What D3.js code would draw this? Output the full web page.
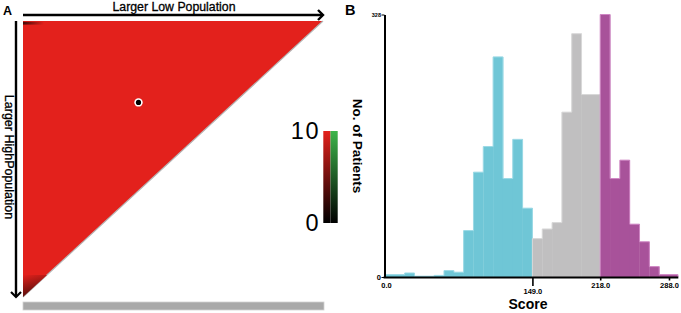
<!DOCTYPE html>
<html>
  <head>
    <script src="https://cdn.jsdelivr.net/npm/d3@7"></script>
    <style>
      body { margin: 0; background: #fff; }
      svg { font-family: "Liberation Sans", Arial, sans-serif; }
    </style>
  </head>
  <body>
    <script>

      // panel A: x-tile plot (fractions of the cohort)
      var tileCorners = [[0, 0], [1, 0], [0, 1]];
      var tileValue = 10;
      var cutPoint = [0.385, 0.295];
      var legendTicks = [0, 10];

      // panel B: histogram of scores
      var cutLow = 149, cutHigh = 218;
      var binEdges = [-1, 19, 29, 49, 59, 69, 79, 89, 99, 109, 119, 129, 139, 149,
                      159, 169, 179, 189, 199, 218,
                      228, 238, 248, 258, 268, 278, 297];
      var counts = [3, 5, 1, 2, 8, 6, 58, 131, 163, 275, 123, 172, 86,
                    48, 60, 68, 206, 304, 228,
                    328, 123, 146, 66, 44, 13, 3];
      var scoreTicks = [0, 149, 218, 288];
      var countTicks = [0, 328];

      var svg = d3.select("body")
        .append("svg")
        .attr("width", 681)
        .attr("height", 313);

      var defs = svg.append("defs");

      // ---------- panel A ----------
      var xA = d3.scaleLinear().domain([0, 1]).range([23, 323]);
      var yA = d3.scaleLinear().domain([0, 1]).range([21, 297]);
      var red = d3.scaleLinear().domain([0, 10]).range(["#000000", "#e3211c"]);
      var green = d3.scaleLinear().domain([0, 10]).range(["#000000", "#3cb54a"]);

      // panel letter
      svg.append("text")
        .attr("x", 3).attr("y", 15)
        .style("font-size", "12.5px").style("font-weight", "bold")
        .text("A");

      // main triangle
      svg.append("path")
        .attr("d", d3.line().x(function(d) { return xA(d[0]); }).y(function(d) { return yA(d[1]); })(tileCorners) + "Z")
        .attr("fill", red(tileValue));

      // diagonal edge
      svg.append("line")
        .attr("x1", xA(1)).attr("y1", yA(0))
        .attr("x2", xA(0)).attr("y2", yA(1))
        .attr("stroke", "#b5b5b5")
        .attr("stroke-width", 1.2);

      // dark corners
      var gBottom = defs.append("linearGradient")
        .attr("id", "gBottom").attr("x1", 0).attr("y1", 0).attr("x2", 0.3).attr("y2", 1);
      gBottom.append("stop").attr("offset", "0%").attr("stop-color", red(10));
      gBottom.append("stop").attr("offset", "100%").attr("stop-color", red(3.5));
      svg.append("path")
        .attr("d", "M" + xA(0) + "," + yA(0.92) + "L" + xA(0.08) + "," + yA(0.92) + "L" + xA(0) + "," + yA(1) + "Z")
        .attr("fill", "url(#gBottom)");

      var gTop = defs.append("linearGradient")
        .attr("id", "gTop").attr("x1", 0).attr("y1", 0).attr("x2", 1).attr("y2", 0);
      gTop.append("stop").attr("offset", "0%").attr("stop-color", red(3));
      gTop.append("stop").attr("offset", "100%").attr("stop-color", red(10));
      svg.append("rect")
        .attr("x", xA(0)).attr("y", yA(0.003))
        .attr("width", xA(0.07) - xA(0)).attr("height", yA(0.01) - yA(0))
        .attr("fill", "url(#gTop)");

      // optimal cut point
      svg.append("circle")
        .attr("cx", xA(cutPoint[0])).attr("cy", yA(cutPoint[1]))
        .attr("r", 4.2).attr("fill", "#fff");
      svg.append("circle")
        .attr("cx", xA(cutPoint[0])).attr("cy", yA(cutPoint[1]))
        .attr("r", 2.6).attr("fill", "#000");

      // arrows
      svg.append("line")
        .attr("x1", xA(0)).attr("y1", 15).attr("x2", xA(1)).attr("y2", 15)
        .attr("stroke", "#000").attr("stroke-width", 2.6);
      svg.append("path")
        .attr("d", "M" + (xA(1) - 5) + ",10L" + xA(1) + ",15L" + (xA(1) - 5) + ",20")
        .attr("fill", "none").attr("stroke", "#000").attr("stroke-width", 2.4);
      svg.append("line")
        .attr("x1", 16).attr("y1", yA(0)).attr("x2", 16).attr("y2", yA(1))
        .attr("stroke", "#000").attr("stroke-width", 2.4);
      svg.append("path")
        .attr("d", "M11," + (yA(1) - 5) + "L16," + yA(1) + "L21," + (yA(1) - 5))
        .attr("fill", "none").attr("stroke", "#000").attr("stroke-width", 2.2);

      svg.append("text")
        .attr("x", 174).attr("y", 11)
        .style("text-anchor", "middle")
        .style("font-size", "12.3px")
        .style("stroke", "#000").style("stroke-width", 0.3)
        .text("Larger Low Population");

      svg.append("text")
        .attr("transform", "translate(4.5,157) rotate(90)")
        .style("text-anchor", "middle")
        .style("font-size", "12.5px")
        .style("stroke", "#000").style("stroke-width", 0.3)
        .text("Larger HighPopulation");

      // grey bar under the plot
      svg.append("rect")
        .attr("x", xA(0)).attr("y", 302)
        .attr("width", xA(1) - xA(0) + 1).attr("height", 8)
        .attr("fill", "#a9a9a9")
        .attr("stroke", "#d2d2d2").attr("stroke-width", 0.8);

      // colour legend
      var yL = d3.scaleLinear().domain([0, 10]).range([223, 131]);
      [["gRed", red], ["gGreen", green]].forEach(function(p, i) {
        var g = defs.append("linearGradient")
          .attr("id", p[0]).attr("x1", 0).attr("y1", 1).attr("x2", 0).attr("y2", 0);
        legendTicks.forEach(function(v) {
          g.append("stop").attr("offset", (v / 10 * 100) + "%").attr("stop-color", p[1](v));
        });
        svg.append("rect")
          .attr("x", 323.3 + i * 7.2).attr("y", yL(10))
          .attr("width", 7.2).attr("height", yL(0) - yL(10))
          .attr("fill", "url(#" + p[0] + ")");
      });
      svg.selectAll(".legtick")
        .data(legendTicks)
        .enter()
        .append("text")
        .attr("class", "legtick")
        .attr("x", 320)
        .attr("y", function(d) { return yL(d) + 7.5; })
        .style("text-anchor", "end")
        .style("font-size", "23.5px")
        .style("letter-spacing", "1.5px")
        .text(function(d) { return d; });

      // ---------- panel B ----------
      var x = d3.scaleLinear().domain([0, 288]).range([386, 669]);
      var y = d3.scaleLinear().domain([0, 328]).range([277, 14.5]);

      svg.append("text")
        .attr("x", 345).attr("y", 15)
        .style("font-size", "14.5px").style("font-weight", "bold")
        .text("B");

      var bins = counts.map(function(c, i) {
        return {x0: binEdges[i], x1: binEdges[i + 1], n: c};
      });

      var groups = [
        {fill: "#6fc6d6", edge: "#9bd9e5", test: function(d) { return d.x0 < cutLow; }},
        {fill: "#c0bfc0", edge: "#d8d8d8", test: function(d) { return d.x0 >= cutLow && d.x0 < cutHigh; }},
        {fill: "#a8529a", edge: "#cf86c4", test: function(d) { return d.x0 >= cutHigh; }}
      ];

      var step = d3.line()
        .x(function(p) { return x(p[0]); })
        .y(function(p) { return y(p[1]); })
        .curve(d3.curveStepAfter);

      groups.forEach(function(grp) {
        var gb = bins.filter(grp.test);
        svg.selectAll(null)
          .data(gb)
          .enter()
          .append("rect")
          .attr("x", function(d) { return x(d.x0); })
          .attr("y", function(d) { return y(d.n); })
          .attr("width", function(d) { return x(d.x1) - x(d.x0) + 0.3; })
          .attr("height", function(d) { return y(0) - y(d.n); })
          .attr("fill", grp.fill);
        // lighter outline along the step
        var pts = [[gb[0].x0, 0]];
        gb.forEach(function(d) { pts.push([d.x0, d.n]); });
        pts.push([gb[gb.length - 1].x1, 0]);
        svg.append("path")
          .attr("d", step(pts))
          .attr("fill", "none")
          .attr("stroke", grp.edge)
          .attr("stroke-width", 1);
      });

      // x axis
      var xAxis = svg.append("g")
        .attr("transform", "translate(0," + (y(0) + 0.5) + ")")
        .call(d3.axisBottom(x).tickValues(scoreTicks).tickSize(3).tickSizeOuter(0)
          .tickFormat(d3.format(".1f")));
      xAxis.select(".domain").remove();
      xAxis.append("line")
        .attr("x1", x(-2.5)).attr("x2", x(297.5))
        .attr("stroke", "#000").attr("stroke-width", 2);
      xAxis.selectAll(".tick line")
        .attr("stroke-width", 1.6)
        .attr("y2", function(d) { return d === cutLow ? 8.5 : (d === 0 ? 0 : 3); });
      xAxis.selectAll(".tick text")
        .attr("y", function(d) { return d === cutLow ? 11 : 5; })
        .style("font-family", "Liberation Sans, Arial, sans-serif")
        .style("font-size", "7.5px")
        .style("font-weight", "bold")
        .attr("fill", "#000");

      // y axis
      var yAxis = svg.append("g")
        .attr("transform", "translate(" + (x(0) - 1.5) + ",0)")
        .call(d3.axisLeft(y).tickValues(countTicks).tickSize(3).tickSizeOuter(0));
      yAxis.select(".domain")
        .attr("stroke-width", 2);
      yAxis.selectAll(".tick text")
        .attr("x", -3.5)
        .style("font-family", "Liberation Sans, Arial, sans-serif")
        .style("font-size", function(d) { return d === 0 ? "7.5px" : "5.5px"; })
        .style("font-weight", "bold")
        .attr("fill", "#000");

      // axis titles
      svg.append("text")
        .attr("x", 528).attr("y", 309)
        .style("text-anchor", "middle")
        .style("font-size", "14px").style("font-weight", "bold")
        .text("Score");

      svg.append("text")
        .attr("transform", "translate(353,146) rotate(90)")
        .style("text-anchor", "middle")
        .style("font-size", "13.5px").style("font-weight", "bold")
        .text("No. of Patients");

    </script>
  </body>
</html>
